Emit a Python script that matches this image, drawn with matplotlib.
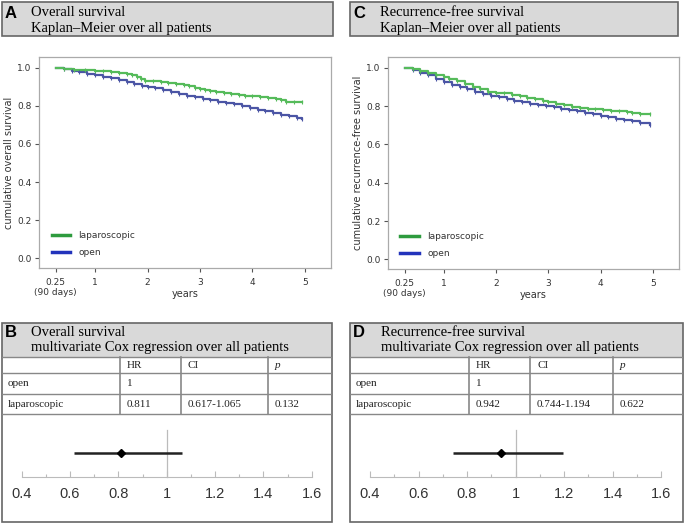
import numpy as np
import matplotlib.pyplot as plt
from matplotlib.patches import Rectangle
from matplotlib.lines import Line2D
from matplotlib.ticker import MultipleLocator

W, H = 685, 523

# Kaplan-Meier step points (years, survival)
os_lap_t = [0.25, 0.4, 0.6, 0.8, 1.0, 1.15, 1.3, 1.45, 1.6, 1.7, 1.8, 1.88, 1.95, 2.1, 2.25,
            2.4, 2.55, 2.7, 2.8, 2.9, 3.0, 3.1, 3.2, 3.3, 3.45, 3.6, 3.75, 3.85, 4.0, 4.15,
            4.3, 4.45, 4.55, 4.65, 4.8, 4.95]
os_lap_s = [1.0, 0.995, 0.99, 0.987, 0.985, 0.982, 0.978, 0.972, 0.965, 0.96, 0.952, 0.94,
            0.932, 0.928, 0.925, 0.92, 0.916, 0.91, 0.903, 0.895, 0.888, 0.884, 0.878, 0.87,
            0.866, 0.864, 0.858, 0.852, 0.85, 0.846, 0.84, 0.834, 0.828, 0.822, 0.82, 0.82]
os_open_t = [0.25, 0.4, 0.55, 0.7, 0.85, 1.0, 1.15, 1.3, 1.45, 1.6, 1.75, 1.9, 2.0, 2.15,
             2.3, 2.45, 2.6, 2.75, 2.9, 3.05, 3.2, 3.35, 3.5, 3.65, 3.8, 3.95, 4.1, 4.25,
             4.4, 4.55, 4.7, 4.85, 4.95]
os_open_s = [1.0, 0.992, 0.984, 0.976, 0.968, 0.96, 0.952, 0.944, 0.935, 0.926, 0.916, 0.906,
             0.9, 0.893, 0.883, 0.872, 0.862, 0.852, 0.844, 0.838, 0.83, 0.822, 0.815, 0.81,
             0.8, 0.79, 0.78, 0.772, 0.762, 0.754, 0.745, 0.738, 0.733]

rfs_lap_t = [0.25, 0.4, 0.55, 0.7, 0.85, 1.0, 1.1, 1.25, 1.4, 1.55, 1.7, 1.85, 2.0, 2.15,
             2.3, 2.45, 2.6, 2.75, 2.9, 3.0, 3.15, 3.3, 3.45, 3.6, 3.75, 3.9, 4.05, 4.2,
             4.35, 4.5, 4.6, 4.75, 4.95]
rfs_lap_s = [1.0, 0.992, 0.982, 0.972, 0.962, 0.953, 0.942, 0.932, 0.915, 0.902, 0.89, 0.876,
             0.868, 0.866, 0.858, 0.85, 0.842, 0.838, 0.828, 0.82, 0.81, 0.805, 0.797, 0.792,
             0.785, 0.784, 0.782, 0.776, 0.772, 0.768, 0.762, 0.76, 0.76]
rfs_open_t = [0.25, 0.4, 0.55, 0.7, 0.85, 1.0, 1.15, 1.3, 1.45, 1.6, 1.75, 1.9, 2.05, 2.2,
              2.35, 2.5, 2.65, 2.8, 2.95, 3.1, 3.25, 3.4, 3.55, 3.7, 3.85, 4.0, 4.15, 4.3,
              4.45, 4.6, 4.75, 4.95]
rfs_open_s = [1.0, 0.988, 0.974, 0.96, 0.942, 0.926, 0.912, 0.9, 0.888, 0.876, 0.862, 0.855,
              0.848, 0.836, 0.828, 0.82, 0.812, 0.806, 0.8, 0.793, 0.786, 0.778, 0.772, 0.766,
              0.758, 0.75, 0.742, 0.735, 0.727, 0.72, 0.712, 0.703]

# Cox regression results
cox_rows = ["open", "laparoscopic"]
os_hr = ["1", "0.811"]
os_ci = ["", "0.617-1.065"]
os_p = ["", "0.132"]
os_est, os_lo, os_hi = 0.811, 0.617, 1.065

rfs_hr = ["1", "0.942"]
rfs_ci = ["", "0.744-1.194"]
rfs_p = ["", "0.622"]
rfs_est, rfs_lo, rfs_hi = 0.942, 0.744, 1.194

GREEN = "#55bb5a"
BLUE = "#4b55a5"
GREEN_LEG = "#2e9b3e"
BLUE_LEG = "#2233bb"
HEAD = "#d9d9d9"
EDGE = "#666666"
SERIF = "Liberation Serif"
SANS = "Liberation Sans"

fig = plt.figure(figsize=(W / 100, H / 100), dpi=100)


def px(x0, y0, x1, y1):
    return [x0 / W, 1 - y1 / H, (x1 - x0) / W, (y1 - y0) / H]


def header(x0, y0, x1, y1, letter, line1, line2, txt_x):
    ax = fig.add_axes(px(x0, y0, x1, y1))
    ax.set_xlim(x0, x1)
    ax.set_ylim(y1, y0)
    ax.axis("off")
    ax.add_patch(Rectangle((x0, y0), x1 - x0, y1 - y0, facecolor=HEAD,
                           edgecolor=EDGE, lw=1.2, clip_on=False))
    ax.text(x0 + 3, y0 + 11, letter, fontsize=12, fontweight="bold",
            family=SANS, va="center", ha="left")
    ax.text(txt_x, y0 + 11, line1, fontsize=10.5, family=SERIF, va="center")
    ax.text(txt_x, y0 + 26.5, line2, fontsize=10.5, family=SERIF, va="center")
    return ax


def km_panel(rect, lap_t, lap_s, open_t, open_s, ylabel):
    ax = fig.add_axes(px(*rect))
    ax.step(open_t, open_s, where="post", color=BLUE, lw=1.6)
    ax.step(lap_t, lap_s, where="post", color=GREEN, lw=1.6)
    ax.plot(open_t[1:], open_s[1:], ls="none", marker="|", ms=2.5, color=BLUE, mew=0.8)
    ax.plot(lap_t[1:], lap_s[1:], ls="none", marker="|", ms=2.5, color=GREEN, mew=0.8)
    ax.set_xlim(-0.07, 5.5)
    ax.set_ylim(-0.05, 1.056)
    ax.set_xticks([0.25, 1, 2, 3, 4, 5])
    ax.set_xticklabels(["0.25\n(90 days)", "1", "2", "3", "4", "5"])
    ax.set_yticks([0, 0.2, 0.4, 0.6, 0.8, 1.0])
    ax.set_yticklabels(["0.0", "0.2", "0.4", "0.6", "0.8", "1.0"])
    ax.tick_params(labelsize=6.5, colors="#555555", labelcolor="#333333",
                   length=3, width=0.8, direction="out", pad=2.5)
    ax.tick_params(axis="x", pad=4)
    for s in ax.spines.values():
        s.set_color("#aaaaaa")
        s.set_linewidth(0.9)
    ax.set_xlabel("years", fontsize=7, color="#333333", labelpad=-6)
    ax.set_ylabel(ylabel, fontsize=7, color="#333333", labelpad=2)
    handles = [Line2D([], [], color=GREEN_LEG, lw=2.5),
               Line2D([], [], color=BLUE_LEG, lw=2.5)]
    leg = ax.legend(handles, ["laparoscopic", "open"], loc="lower left",
                    bbox_to_anchor=(0.015, 0.015), frameon=False, fontsize=6.5,
                    handlelength=2.0, handletextpad=1.0, labelspacing=0.85)
    for t in leg.get_texts():
        t.set_color("#333333")
    return ax


def cox_panel(x0, y0, x1, head_y1, rows_y, cols_x, bottom, letter, line1, line2,
              txt_x, hr, ci, p, est, lo, hi, ax_x04, ax_x16):
    ax = fig.add_axes(px(x0, y0, x1, bottom))
    ax.set_xlim(x0, x1)
    ax.set_ylim(bottom, y0)
    ax.axis("off")
    ax.add_patch(Rectangle((x0, y0), x1 - x0, head_y1 - y0, facecolor=HEAD,
                           edgecolor="none"))
    ax.add_patch(Rectangle((x0, y0), x1 - x0, bottom - y0, facecolor="none",
                           edgecolor=EDGE, lw=1.2, clip_on=False))
    ax.text(x0 + 3, y0 + 9.5, letter, fontsize=12, fontweight="bold",
            family=SANS, va="center", ha="left")
    ax.text(txt_x, y0 + 9, line1, fontsize=10.5, family=SERIF, va="center")
    ax.text(txt_x, y0 + 25, line2, fontsize=10.5, family=SERIF, va="center")
    for yy in [head_y1] + rows_y:
        ax.plot([x0, x1], [yy, yy], color="#888888", lw=1.0)
    for xx in cols_x:
        ax.plot([xx, xx], [head_y1, rows_y[-1]], color="#888888", lw=1.2)
    row_tops = [head_y1] + rows_y
    cells = [["", "HR", "CI", "p"]] + [[cox_rows[i], hr[i], ci[i], p[i]] for i in range(2)]
    starts = [x0 + 6] + [c + 7 for c in cols_x]
    for r, cell_row in enumerate(cells):
        yc = (row_tops[r] + row_tops[r + 1]) / 2 + 0.5
        for c, txt in enumerate(cell_row):
            style = "italic" if (r == 0 and c == 3) else "normal"
            ax.text(starts[c], yc, txt, fontsize=8, family=SERIF,
                    va="center", ha="left", style=style, color="#222222")

    # forest plot
    ytop = rows_y[-1]
    fx = fig.add_axes(px(x0, ytop, x1, bottom))
    fx.patch.set_alpha(0)
    scale = (ax_x16 - ax_x04) / 1.2
    fx.set_xlim(0.4 - (ax_x04 - x0) / scale, 1.6 + (x1 - ax_x16) / scale)
    hpx = bottom - ytop
    fx.set_ylim(0, 1)
    axis_y = (bottom - 477) / hpx
    pt_y = (bottom - 453) / hpx
    vl_y = (bottom - 430) / hpx
    fx.plot([1, 1], [axis_y, vl_y], color="#bbbbbb", lw=0.9)
    fx.plot([lo, hi], [pt_y, pt_y], color="#222222", lw=1.8, solid_capstyle="butt")
    fx.plot([est], [pt_y], marker="D", ms=4.5, color="black")
    for s in ["top", "left", "right"]:
        fx.spines[s].set_visible(False)
    fx.spines["bottom"].set_position(("data", axis_y))
    fx.spines["bottom"].set_color("#bbbbbb")
    fx.spines["bottom"].set_bounds(0.4, 1.6)
    fx.set_yticks([])
    fx.set_xticks([0.4, 0.6, 0.8, 1.0, 1.2, 1.4, 1.6])
    fx.set_xticklabels(["0.4", "0.6", "0.8", "1", "1.2", "1.4", "1.6"])
    fx.xaxis.set_minor_locator(MultipleLocator(0.1))
    fx.tick_params(axis="x", which="major", direction="in", length=4, width=0.8,
                   color="#bbbbbb", labelsize=10.5, labelcolor="#333333", pad=7)
    fx.tick_params(axis="x", which="minor", direction="in", length=2.5, width=0.8,
                   color="#bbbbbb")
    for t in fx.get_xticklabels():
        t.set_family(SANS)


header(2, 2, 333, 36, "A", "Overall survival", "Kaplan\u2013Meier over all patients", 31)
header(350, 2, 678, 36, "C", "Recurrence-free survival", "Kaplan\u2013Meier over all patients", 380)

km_panel((39, 57, 331, 268), os_lap_t, os_lap_s, os_open_t, os_open_s,
         "cumulative overall survival")
km_panel((388, 57, 679, 269), rfs_lap_t, rfs_lap_s, rfs_open_t, rfs_open_s,
         "cumulative recurrence-free survival")

cox_panel(2, 323, 332, 357, [373, 394, 414], [120, 181, 268], 522, "B",
          "Overall survival", "multivariate Cox regression over all patients", 31,
          os_hr, os_ci, os_p, os_est, os_lo, os_hi, 21.7, 311.7)
cox_panel(350, 323, 683, 357, [373, 394, 414], [469, 530, 613], 522, "D",
          "Recurrence-free survival", "multivariate Cox regression over all patients", 381,
          rfs_hr, rfs_ci, rfs_p, rfs_est, rfs_lo, rfs_hi, 370, 661)

fig.savefig("out.png", dpi=100, facecolor="white")
